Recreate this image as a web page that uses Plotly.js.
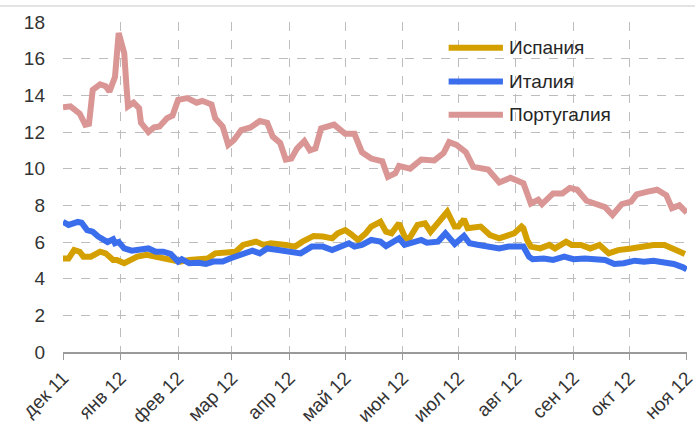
<!DOCTYPE html>
<html>
<head>
<meta charset="utf-8">
<script src="https://cdn.plot.ly/plotly-3.0.1.min.js"></script>
<style>html,body{margin:0;padding:0;background:#fff;}#chart{width:695px;height:427px;}</style>
</head>
<body>
<div id="chart"></div>
<script>
// Series names
const seriesNames = ["Испания", "Италия", "Португалия"];

// Spain
const spainDates = ["2011-12-01","2011-12-04","2011-12-07","2011-12-10","2011-12-12","2011-12-16","2011-12-21","2011-12-24","2011-12-28","2011-12-30",
"2012-01-03","2012-01-06","2012-01-10","2012-01-15","2012-01-18","2012-01-24","2012-01-29","2012-02-02","2012-02-07","2012-02-12","2012-02-17","2012-02-21","2012-02-26",
"2012-03-03","2012-03-07","2012-03-11","2012-03-14","2012-03-18","2012-03-22","2012-03-30","2012-04-04","2012-04-08","2012-04-14","2012-04-19","2012-04-24","2012-04-27",
"2012-05-01","2012-05-04","2012-05-08","2012-05-12","2012-05-15","2012-05-20","2012-05-23","2012-05-26","2012-05-30","2012-06-02","2012-06-04","2012-06-09","2012-06-13","2012-06-16","2012-06-21","2012-06-25","2012-06-29",
"2012-07-01","2012-07-04","2012-07-06","2012-07-13","2012-07-18","2012-07-23","2012-07-28","2012-07-31","2012-08-04","2012-08-05","2012-08-07","2012-08-09","2012-08-14","2012-08-19","2012-08-22","2012-08-28","2012-08-31",
"2012-09-05","2012-09-10","2012-09-15","2012-09-20","2012-09-25","2012-10-02","2012-10-07","2012-10-14","2012-10-20","2012-10-25","2012-10-31"];
const spainValues = [5.1,5.1,5.56,5.47,5.2,5.2,5.47,5.38,5.02,5.02,
4.84,4.98,5.2,5.3,5.24,5.1,5.02,4.93,5.02,5.06,5.1,5.38,5.42,
5.47,5.84,5.93,6.02,5.84,5.93,5.84,5.75,6.02,6.33,6.3,6.2,6.47,
6.65,6.44,6.11,6.47,6.84,7.1,6.56,6.47,7.02,6.3,6.11,6.93,7.02,6.56,7.1,7.65,6.84,
6.84,7.24,6.75,6.84,6.38,6.2,6.38,6.47,6.84,6.75,6.11,5.75,5.65,5.84,5.65,6.02,5.84,
5.84,5.65,5.84,5.38,5.56,5.65,5.75,5.84,5.84,5.65,5.35];

// Italy
const italyDates = ["2011-12-01","2011-12-04","2011-12-09","2011-12-11","2011-12-14","2011-12-17","2011-12-20","2011-12-25","2011-12-28","2011-12-29","2011-12-31",
"2012-01-03","2012-01-07","2012-01-12","2012-01-16","2012-01-20","2012-01-24","2012-01-28","2012-02-01","2012-02-03","2012-02-07","2012-02-12","2012-02-16","2012-02-20","2012-02-25","2012-02-29",
"2012-03-05","2012-03-09","2012-03-12","2012-03-16","2012-03-20","2012-03-26","2012-04-02","2012-04-07","2012-04-13","2012-04-19","2012-04-24","2012-04-29",
"2012-05-03","2012-05-06","2012-05-10","2012-05-15","2012-05-20","2012-05-23","2012-05-26","2012-05-30","2012-06-02","2012-06-05","2012-06-11","2012-06-14","2012-06-20","2012-06-24","2012-06-29",
"2012-07-04","2012-07-07","2012-07-12","2012-07-17","2012-07-23","2012-07-28","2012-08-02","2012-08-05","2012-08-08","2012-08-10","2012-08-16","2012-08-21","2012-08-27",
"2012-09-01","2012-09-07","2012-09-14","2012-09-18","2012-09-23","2012-09-28","2012-10-04","2012-10-09","2012-10-14","2012-10-20","2012-10-25","2012-10-30","2012-11-01"];
const italyValues = [7.1,6.93,7.1,7.05,6.65,6.56,6.3,6.0,6.15,5.93,6.0,
5.65,5.53,5.56,5.65,5.47,5.47,5.35,4.93,5.06,4.84,4.87,4.8,4.93,4.93,5.1,
5.3,5.42,5.53,5.38,5.65,5.56,5.47,5.38,5.75,5.75,5.56,5.75,
5.93,5.75,5.84,6.11,6.02,5.78,5.93,6.2,5.84,5.93,6.11,5.96,6.02,6.47,5.89,
6.33,5.93,5.84,5.78,5.65,5.75,5.78,5.75,5.2,5.06,5.1,5.02,5.2,
5.06,5.1,5.02,5.02,4.8,4.84,4.98,4.93,4.98,4.87,4.8,4.62,4.5];

// Portugal
const portugalDates = ["2011-12-01","2011-12-05","2011-12-10","2011-12-13","2011-12-15","2011-12-17","2011-12-21","2011-12-24","2011-12-26","2011-12-29","2011-12-31",
"2012-01-03","2012-01-04","2012-01-05","2012-01-08","2012-01-11","2012-01-12","2012-01-16","2012-01-19","2012-01-22","2012-01-26","2012-01-29",
"2012-02-01","2012-02-06","2012-02-11","2012-02-14","2012-02-19","2012-02-21","2012-02-25","2012-02-28",
"2012-03-02","2012-03-06","2012-03-11","2012-03-16","2012-03-20","2012-03-23","2012-03-27","2012-03-30",
"2012-04-02","2012-04-05","2012-04-09","2012-04-12","2012-04-15","2012-04-18","2012-04-25",
"2012-05-01","2012-05-06","2012-05-10","2012-05-15","2012-05-21","2012-05-24","2012-05-28","2012-05-30",
"2012-06-05","2012-06-11","2012-06-18","2012-06-23","2012-06-26","2012-06-30",
"2012-07-05","2012-07-09","2012-07-17","2012-07-23","2012-07-29",
"2012-08-05","2012-08-09","2012-08-13","2012-08-15","2012-08-21","2012-08-26","2012-08-30",
"2012-09-03","2012-09-08","2012-09-14","2012-09-18","2012-09-22","2012-09-27",
"2012-10-02","2012-10-05","2012-10-11","2012-10-16","2012-10-21","2012-10-24","2012-10-28","2012-11-01"];
const portugalValues = [13.35,13.4,13.0,12.4,12.45,14.3,14.6,14.5,14.2,15.0,17.4,
16.3,14.75,13.4,13.6,13.3,12.5,12.0,12.25,12.3,12.75,12.9,
13.75,13.85,13.6,13.7,13.5,12.75,12.3,11.3,
11.55,12.1,12.25,12.6,12.5,11.75,11.4,10.5,
10.55,11.1,11.5,11.0,11.1,12.2,12.4,
11.9,11.9,10.9,10.55,10.4,9.55,9.75,10.15,
10.0,10.5,10.45,10.85,11.45,11.3,
10.9,10.1,9.95,9.25,9.5,
9.2,8.1,8.3,8.07,8.65,8.65,8.95,
8.85,8.25,8.07,7.9,7.47,8.07,
8.2,8.6,8.75,8.85,8.55,7.85,8.0,7.6];

// Axis ticks
const monthTickVals = ["2011-12-01","2012-01-01","2012-02-01","2012-03-01","2012-04-01","2012-05-01","2012-06-01","2012-07-01","2012-08-01","2012-09-01","2012-10-01","2012-11-01"];
const monthTickText = ["дек 11","янв 12","фев 12","мар 12","апр 12","май 12","июн 12","июл 12","авг 12","сен 12","окт 12","ноя 12"];
const yTickVals = [0,2,4,6,8,10,12,14,16,18];

const colors = ["#D4A000", "#3B6EEC", "#DA9694"];
const lineWidth = 6;

const traces = [
  {x: portugalDates, y: portugalValues, name: seriesNames[2], type: "scatter", mode: "lines",
   line: {color: colors[2], width: lineWidth}, hoverinfo: "skip"},
  {x: spainDates, y: spainValues, name: seriesNames[0], type: "scatter", mode: "lines",
   line: {color: colors[0], width: lineWidth}, hoverinfo: "skip"},
  {x: italyDates, y: italyValues, name: seriesNames[1], type: "scatter", mode: "lines",
   line: {color: colors[1], width: lineWidth}, hoverinfo: "skip"}
];

// custom legend (positions in paper coords)
const legendY = [0.922, 0.820, 0.719];
const shapes = [
  {type: "line", xref: "paper", yref: "paper", x0: -0.11, x1: 1.02, y0: 1.0485, y1: 1.0485,
   line: {color: "#c8c8c8", width: 1}}
];
const annotations = [];
for (let i = 0; i < 3; i++) {
  shapes.push({type: "line", xref: "paper", yref: "paper", x0: 0.618, x1: 0.705, y0: legendY[i], y1: legendY[i],
    line: {color: colors[i], width: 6}});
  annotations.push({xref: "paper", yref: "paper", x: 0.712, y: legendY[i], xanchor: "left", yanchor: "middle",
    text: seriesNames[i], showarrow: false, font: {family: "Liberation Sans, Arial, sans-serif", size: 19, color: "#262626"}});
}

const layout = {
  width: 695, height: 427,
  margin: {l: 63, r: 8, t: 22, b: 75},
  paper_bgcolor: "#fff", plot_bgcolor: "#fff",
  showlegend: false,
  font: {family: "Liberation Sans, Arial, sans-serif", size: 19, color: "#333"},
  xaxis: {
    type: "date",
    range: ["2011-12-01", "2012-11-01 03:00"],
    tickvals: monthTickVals, ticktext: monthTickText,
    tickangle: -45,
    ticklabeloverflow: "allow",
    showgrid: true, gridcolor: "#bdbdbd", griddash: "dash", gridwidth: 1,
    showline: true, linecolor: "#9a9a9a", linewidth: 1.5,
    ticks: "outside", ticklen: 6, tickcolor: "#9a9a9a",
    tickfont: {size: 19, color: "#333"},
    zeroline: false, fixedrange: true
  },
  yaxis: {
    range: [0, 18],
    tickvals: yTickVals,
    showgrid: true, gridcolor: "#bdbdbd", griddash: "dash", gridwidth: 1,
    showline: false, ticks: "", zeroline: false,
    ticklabelstandoff: 17,
    tickfont: {size: 19, color: "#333"},
    fixedrange: true
  },
  shapes: shapes,
  annotations: annotations
};

Plotly.newPlot("chart", traces, layout, {staticPlot: true, displayModeBar: false});
</script>
</body>
</html>
